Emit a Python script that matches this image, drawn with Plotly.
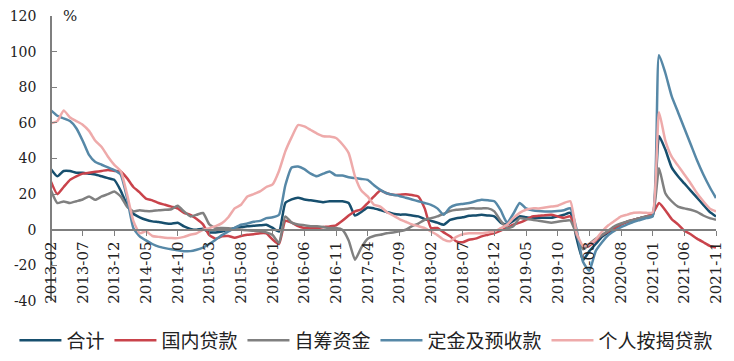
import plotly.graph_objects as go

# months 2013-02 .. 2021-11
months = []
y, m = 2013, 2
while (y, m) <= (2021, 11):
    months.append(f"{y}-{m:02d}")
    m += 1
    if m > 12:
        m = 1
        y += 1

tick_labels = months[::5]
y_ticks = [-40, -20, 0, 20, 40, 60, 80, 100, 120]
y_tick_text = ["-40", "-20", "0", "20", "40", "60", "80", "100", "120"]

total = [34, 30, 33, 33, 32, 32, 31.5, 31, 30, 29,
         28, 22, 14, 9, 7, 5.6, 4.7, 4.3, 3.7, 3.4,
         3.9, 1.9, 0.5, 0, 0.5, -1.5, -1.5, -1, 0, 1,
         1.5, 2, 2.2, 2.5, 2.8, 1, -1, 15, 17, 18,
         17, 16.5, 16, 15.5, 16, 16, 16, 15, 8, 10,
         12.5, 12, 11, 10, 9, 8.5, 8.5, 8, 7.5, 6,
         5, 4, 2.8, 5.5, 6.5, 7, 7.8, 8, 8.4, 8,
         7.5, 4, 2.8, 5, 7.5, 7, 6.5, 6.7, 6.7, 6.7,
         7.5, 8.4, 9.5, -5, -17, -12, -8, -4, -1.5, 0.5,
         3, 4.5, 5.5, 6.5, 7.5, 8, 52.6, 45, 35, 30,
         26, 22, 18, 14, 10, 7.5]

domestic_loans = [27, 20, 24, 28, 30, 31.5, 32, 32.5, 33, 33.6,
                  33, 32.7, 29, 24, 21, 17.5, 16.5, 15, 14, 13,
                  12, 9.5, 8.4, 6, 3, -3, -5, -3.7, -3.5, -4.5,
                  -3.5, -2.8, -2.5, -1.9, -2, -5.5, -8, 5, 4, 2,
                  1, 1, 1, 1.5, 1.9, 2.5, 5, 8, 10.3, 11.5,
                  15, 18.7, 22, 20.5, 19.6, 19.6, 20, 19.5, 18.7, 12,
                  1, 1, -1.5, -3.7, -6.5, -7, -5.6, -5, -3.7, -2.8,
                  -1.9, -0.5, 1, 2.8, 4, 5.6, 7.5, 7.8, 8.2, 8.4,
                  7.5, 6.7, 7.5, -3, -10, -9, -6, -3, -1, 1,
                  3, 4.5, 5.6, 6.5, 7.5, 9, 15, 11, 6, 3,
                  -0.5, -2.5, -5, -7, -9, -10]

self_raised = [22, 15, 15.9, 15, 16, 17, 18.7, 16.8, 18.7, 20,
               21.5, 18.7, 13, 10.3, 11, 10.5, 10.5, 11, 11.2, 11.5,
               13.5, 10.3, 7.5, 8.4, 9.4, 3, 0.9, 1, 0.9, 0.5,
               0, -0.3, -0.5, -0.9, -1.5, -3, -7.5, 7.5, 4, 3,
               2.5, 2, 1.9, 1.5, 1, 1, 0, -6, -16.8, -10,
               -5, -3.5, -2.8, -2, -1.5, -0.9, 0, 2, 3.5, 5.6,
               6.5, 7.5, 9, 10.5, 11.2, 11.5, 12, 12, 12, 12,
               10.3, 5, 1, 2, 6.5, 6, 5.6, 5, 4.5, 4,
               4.5, 5, 5.2, -3, -11, -8, -5, -3, -0.5, 2,
               3.5, 4.7, 5.5, 6.5, 7.5, 8, 34.5, 20.5, 16, 13,
               12, 11.2, 10, 8, 6.5, 5.6]

deposits = [67, 64, 62.5, 61, 57, 50, 42, 38, 36.5, 35,
            33.5, 31, 18, 1, -3.7, -6, -8, -9.5, -10.3, -11,
            -11.5, -12, -12, -11.2, -10, -8, -5.6, -3, -1, 1,
            2.8, 3.5, 4.5, 5, 6.5, 7, 8.4, 25, 35, 35.5,
            34, 31.5, 30, 31.5, 32.7, 30.5, 30.5, 29.5, 29, 28.5,
            28, 25, 22.4, 20.5, 19.6, 19, 18, 17, 16, 15,
            14, 12, 8.4, 12.5, 14, 14.5, 15, 16, 16.8, 16.5,
            16, 11, 4, 9, 15, 12, 11, 10.5, 10.3, 10.3,
            10.5, 11, 12, 0, -18, -23, -12, -7, -3, -0.5,
            1.5, 3, 4.5, 5.5, 6.5, 7.5, 98, 88, 75, 66,
            57, 48, 39, 31, 24, 17.8]

mortgages = [59.7, 61, 67, 63, 61, 59, 55.5, 50, 46.5, 41,
             36.4, 33, 20, 5, -1.9, -0.9, -3.5, -4, -4.5, -4.7,
             -4.7, -4, -2.8, -2, 0, 0.9, 2, 3.7, 7, 12,
             14, 18.7, 20, 21.5, 24, 25.5, 33, 44, 52, 58.8,
             58, 56, 54, 52.5, 52.3, 51.5, 48, 43, 30, 22,
             18.7, 14, 13, 10, 8, 6, 4.5, 3, 2, 0.9,
             -1, -3, -5.5, -6.5, -4, -2.5, -2, -1.9, -1.9, -1.5,
             -1, 0.9, 2.8, 6.5, 9.5, 11.2, 12, 12, 12.5, 13,
             13.5, 15, 16, -2, -9, -8, -5.6, -1, 2.5, 5,
             7.5, 8.5, 9.5, 9.7, 9.5, 9.7, 66, 50, 41, 36,
             31, 26, 20.5, 16, 12, 10.3]

series_names = ["合计", "国内贷款", "自筹资金", "定金及预收款", "个人按揭贷款"]
series_values = [total, domestic_loans, self_raised, deposits, mortgages]
series_colors = ["#174f6e", "#c9434b", "#808080", "#5688a7", "#eeaaaa"]

fig = go.Figure()
for name, vals, col in zip(series_names, series_values, series_colors):
    fig.add_trace(go.Scatter(x=months, y=vals, name=name, mode="lines",
                             line=dict(color=col, width=2.5, shape="spline", smoothing=0.5)))

serif = "DejaVu Serif"
# the page body adds an 8px offset, so the figure is sized/margined to compensate
fig.update_layout(
    width=718, height=345,
    margin=dict(l=43, r=10, t=8, b=52, autoexpand=False),
    paper_bgcolor="white", plot_bgcolor="white",
    showlegend=True,
    legend=dict(orientation="h", xref="paper", yref="paper",
                x=-0.055, y=-0.138, xanchor="left", yanchor="middle",
                font=dict(family="Noto Sans CJK SC", size=19, color="#222"),
                itemwidth=42, tracegroupgap=0),
    xaxis=dict(type="category", range=[0, len(months) - 1], automargin=False,
               tickmode="array", tickvals=tick_labels, ticktext=tick_labels,
               tickangle=-90, ticks="outside", ticklen=5, tickcolor="#7f7f7f",
               showline=True, linecolor="#7f7f7f", linewidth=1.5,
               anchor="free", position=0.25, showgrid=False, zeroline=False,
               ticklabeloverflow="allow",
               tickfont=dict(family=serif, size=15, color="#222")),
    yaxis=dict(range=[-40, 120], tickmode="array", automargin=False,
               tickvals=y_ticks, ticktext=y_tick_text,
               anchor="free", position=0, side="left",
               ticks="inside", ticklen=5, tickcolor="#7f7f7f",
               showline=True, linecolor="#7f7f7f", linewidth=1.5,
               showgrid=False, zeroline=False, ticklabelstandoff=11,
               ticklabeloverflow="allow",
               tickfont=dict(family=serif, size=14, color="#222")),
    annotations=[dict(text="%", xref="paper", yref="paper", x=0.0145, y=1.0,
                      xanchor="left", yanchor="middle", showarrow=False,
                      font=dict(family=serif, size=15, color="#222"))],
)

fig.write_html("out.html")
